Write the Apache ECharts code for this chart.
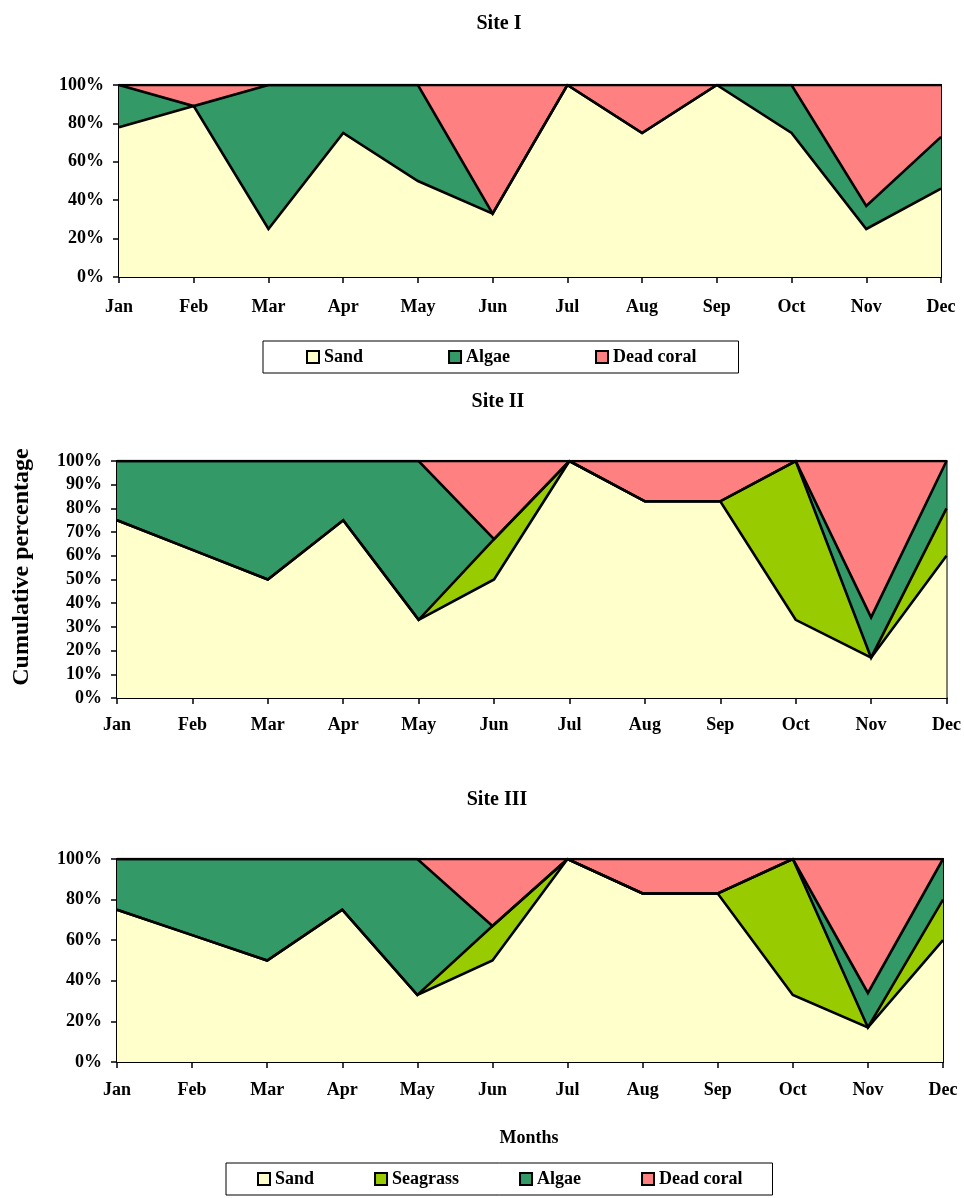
<!DOCTYPE html>
<html>
<head>
<meta charset="utf-8">
<title>Cumulative percentage of substrate cover by month</title>
<script src="https://cdn.jsdelivr.net/npm/echarts@6/dist/echarts.min.js"></script>
<style>
  html, body { margin: 0; padding: 0; background: #fff; }
  #chart { width: 964px; height: 1198px; }
</style>
</head>
<body>
<div id="chart"></div>
<script>
// Months on the category axis
const months = ['Jan', 'Feb', 'Mar', 'Apr', 'May', 'Jun', 'Jul', 'Aug', 'Sep', 'Oct', 'Nov', 'Dec'];

// Site I: share of each cover type (%)
const site1Sand  = [78, 89, 25, 75, 50, 33, 100, 75, 100, 75, 25, 46];
const site1Algae = [22, 0, 75, 25, 50, 0, 0, 0, 0, 25, 12, 27];
const site1Dead  = [0, 11, 0, 0, 0, 67, 0, 25, 0, 0, 63, 27];

// Site II: share of each cover type (%)
const site2Sand     = [75, 62.5, 50, 75, 33, 50, 100, 83, 83, 33, 17, 60];
const site2Seagrass = [0, 0, 0, 0, 0, 17, 0, 0, 0, 67, 0, 20];
const site2Algae    = [25, 37.5, 50, 25, 67, 0, 0, 0, 0, 0, 17, 20];
const site2Dead     = [0, 0, 0, 0, 0, 33, 0, 17, 17, 0, 66, 0];

// Site III: share of each cover type (%)
const site3Sand     = [75, 62.5, 50, 75, 33, 50, 100, 83, 83, 33, 17, 60];
const site3Seagrass = [0, 0, 0, 0, 0, 17, 0, 0, 0, 67, 0, 20];
const site3Algae    = [25, 37.5, 50, 25, 67, 0, 0, 0, 0, 0, 17, 20];
const site3Dead     = [0, 0, 0, 0, 0, 33, 0, 17, 17, 0, 66, 0];

// Panel titles and axis titles
const panelTitles = ['Site I', 'Site II', 'Site III'];
const yTitle = 'Cumulative percentage';
const xTitle = 'Months';

// Y-axis tick step for each panel (0%..100%)
const yIntervals = [20, 10, 20];

const FONT = "'Liberation Serif', 'Times New Roman', serif";
const COLORS = {
  'Sand': '#FFFFCC',
  'Seagrass': '#99CC00',
  'Algae': '#339966',
  'Dead coral': '#FF8080'
};

const grids = [
  { left: 119, top: 85,  width: 822, height: 192 },
  { left: 117, top: 461, width: 830, height: 237 },
  { left: 117, top: 859, width: 826, height: 203 }
];
const labelMargins = [21, 18, 19];

function xAxisFor(i) {
  return {
    type: 'category',
    gridIndex: i,
    data: months,
    boundaryGap: false,
    axisLine: { show: true, lineStyle: { color: '#000', width: 2 } },
    axisTick: { show: true, inside: false, length: 6, lineStyle: { color: '#000', width: 1.5 } },
    axisLabel: {
      interval: 0, margin: labelMargins[i], color: '#000',
      fontFamily: FONT, fontWeight: 'bold', fontSize: 18
    },
    splitLine: { show: false }
  };
}

function yAxisFor(i) {
  return {
    type: 'value',
    gridIndex: i,
    min: 0, max: 100, interval: yIntervals[i],
    axisLine: { show: true, lineStyle: { color: '#000', width: 2 } },
    axisTick: { show: true, inside: false, length: 6, lineStyle: { color: '#000', width: 1.5 } },
    axisLabel: {
      formatter: '{value}%', margin: 15, color: '#000',
      fontFamily: FONT, fontWeight: 'bold', fontSize: 18
    },
    splitLine: { show: false }
  };
}

function areaSeries(name, data, i) {
  return {
    name: name,
    type: 'line',
    xAxisIndex: i,
    yAxisIndex: i,
    stack: 'site' + (i + 1),
    data: data,
    symbol: 'none',
    smooth: false,
    color: COLORS[name],
    itemStyle: { color: COLORS[name], borderColor: '#000', borderWidth: 2 },
    lineStyle: { color: '#000', width: 2.6, join: 'miter' },
    areaStyle: { color: COLORS[name], opacity: 1 },
    emphasis: { disabled: true },
    silent: true,
    animation: false
  };
}

const series = [
  areaSeries('Sand', site1Sand, 0),
  areaSeries('Algae', site1Algae, 0),
  areaSeries('Dead coral', site1Dead, 0),

  areaSeries('Sand', site2Sand, 1),
  areaSeries('Seagrass', site2Seagrass, 1),
  areaSeries('Algae', site2Algae, 1),
  areaSeries('Dead coral', site2Dead, 1),

  areaSeries('Sand', site3Sand, 2),
  areaSeries('Seagrass', site3Seagrass, 2),
  areaSeries('Algae', site3Algae, 2),
  areaSeries('Dead coral', site3Dead, 2)
];

const legendBase = {
  orient: 'horizontal',
  icon: 'rect',
  itemWidth: 12,
  itemHeight: 12,
  selectedMode: false,
  borderColor: '#000',
  borderWidth: 1,
  backgroundColor: '#fff',
  itemStyle: { borderColor: '#000', borderWidth: 2 },
  textStyle: { color: '#000', fontFamily: FONT, fontWeight: 'bold', fontSize: 18 }
};

const titleText = (text, x, y, size) => ({
  type: 'text',
  x: x, y: y,
  silent: true,
  style: {
    text: text, fill: '#000',
    font: 'bold ' + size + 'px ' + FONT,
    textAlign: 'center', textVerticalAlign: 'middle'
  }
});

const option = {
  backgroundColor: '#fff',
  animation: false,
  grid: grids.map(g => Object.assign({
    show: true, borderColor: '#000', borderWidth: 2, backgroundColor: 'transparent', containLabel: false
  }, g)),
  xAxis: [xAxisFor(0), xAxisFor(1), xAxisFor(2)],
  yAxis: [yAxisFor(0), yAxisFor(1), yAxisFor(2)],
  legend: [
    Object.assign({}, legendBase, {
      data: ['Sand', 'Algae', 'Dead coral'],
      left: 263, top: 341,
      padding: [7, 42, 7, 43],
      itemGap: 85
    }),
    Object.assign({}, legendBase, {
      data: ['Sand', 'Seagrass', 'Algae', 'Dead coral'],
      left: 226, top: 1163,
      padding: [7, 30, 7, 31],
      itemGap: 60
    })
  ],
  graphic: [
    titleText(panelTitles[0], 499, 24, 20),
    titleText(panelTitles[1], 498, 402, 20),
    titleText(panelTitles[2], 497, 800, 20),
    titleText(xTitle, 529, 1138, 18),
    Object.assign(titleText(yTitle, 22, 567, 24), { rotation: Math.PI / 2 })
  ],
  series: series
};

const chart = echarts.init(document.getElementById('chart'), null, { renderer: 'canvas' });
chart.setOption(option);
</script>
</body>
</html>
